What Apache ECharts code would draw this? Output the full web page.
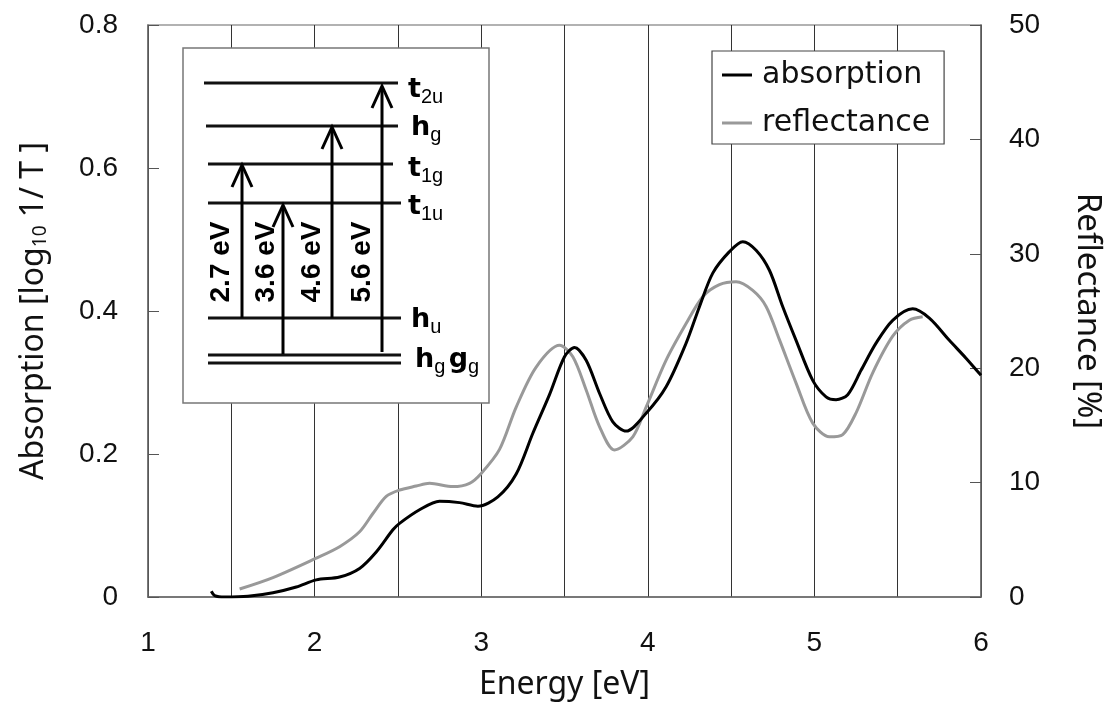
<!DOCTYPE html>
<html>
<head>
<meta charset="utf-8">
<script src="https://cdn.jsdelivr.net/npm/echarts@6/dist/echarts.min.js"></script>
<style>
  html, body { margin: 0; padding: 0; background: #fff; }
  #chart { width: 1112px; height: 710px; }
</style>
</head>
<body>
<div id="chart"></div>
<script>
// absorption spectrum (left axis)
var absEnergy = [1.38, 1.40, 1.46, 1.60, 1.75, 1.89, 2.01, 2.15, 2.27, 2.37, 2.47, 2.51, 2.63, 2.75, 2.87, 2.98, 3.10, 3.21, 3.31, 3.41,
  3.50, 3.56, 3.63, 3.71, 3.79, 3.87, 3.99, 4.11, 4.23, 4.31, 4.39, 4.49, 4.57, 4.65, 4.73, 4.81, 4.89, 4.99, 5.07, 5.13,
  5.20, 5.28, 5.37, 5.47, 5.59, 5.69, 5.81, 5.91, 6.00];
var absorption = [0.008, 0.002, 0, 0.001, 0.006, 0.014, 0.024, 0.028, 0.040, 0.063, 0.094, 0.103, 0.122, 0.134, 0.132, 0.127, 0.140, 0.172, 0.229, 0.283,
  0.336, 0.349, 0.331, 0.285, 0.245, 0.232, 0.257, 0.294, 0.355, 0.406, 0.453, 0.483, 0.497, 0.485, 0.457, 0.406, 0.359, 0.303, 0.280, 0.276,
  0.283, 0.317, 0.355, 0.387, 0.403, 0.390, 0.359, 0.334, 0.310];

// reflectance spectrum (right axis, %)
var reflEnergy = [1.55, 1.75, 2.01, 2.15, 2.27, 2.35, 2.43, 2.51, 2.61, 2.69, 2.83, 2.93, 3.00, 3.11, 3.21, 3.33, 3.47, 3.55, 3.63, 3.71,
  3.80, 3.91, 3.99, 4.11, 4.23, 4.33, 4.43, 4.53, 4.63, 4.71, 4.79, 4.89, 4.99, 5.09, 5.17, 5.25, 5.35, 5.47, 5.57, 5.65];
var reflectance = [0.7, 1.7, 3.4, 4.4, 5.7, 7.3, 8.8, 9.35, 9.7, 9.94, 9.65, 9.94, 10.8, 12.9, 16.6, 20.1, 22.0, 21.0, 18.1, 14.9,
  12.85, 14.0, 16.6, 20.7, 23.9, 26.25, 27.3, 27.55, 26.8, 25.4, 22.5, 18.7, 15.2, 14.0, 14.2, 16.1, 19.6, 22.8, 24.2, 24.5];

var seriesNames = ['absorption', 'reflectance'];
var transitions = ['2.7 eV', '3.6 eV', '4.6 eV', '5.6 eV'];

function pairs(xs, ys) {
  return xs.map(function (x, i) { return [x, ys[i]]; });
}

var FONT = '"Liberation Sans", Arial, sans-serif';
var NAME_FONT = '"Noto Sans", "DejaVu Sans", sans-serif';
var LEGEND_FONT = '"DejaVu Sans", sans-serif';

// ---- inset energy level diagram (pixel layout) ----
var levelLines = [
  { x1: 204, x2: 398, y: 83 },
  { x1: 206, x2: 398, y: 126 },
  { x1: 208, x2: 393, y: 164 },
  { x1: 208, x2: 401, y: 203 },
  { x1: 208, x2: 401, y: 318 },
  { x1: 208, x2: 401, y: 355 },
  { x1: 208, x2: 401, y: 363 }
];
var levelLabels = [
  { text: '{b|t}{s|2u}', x: 408, y: 90 },
  { text: '{b|h}{s|g}', x: 411, y: 128 },
  { text: '{b|t}{s|1g}', x: 408, y: 169 },
  { text: '{b|t}{s|1u}', x: 408, y: 207 },
  { text: '{b|h}{s|u}', x: 411, y: 320 },
  { text: '{b|h}{s|g} {b|g}{s|g}', x: 415, y: 360 }
];
var arrows = [
  { x: 242, y0: 318, y1: 165 },
  { x: 283, y0: 354, y1: 205 },
  { x: 332, y0: 318, y1: 127 },
  { x: 382, y0: 352, y1: 86 }
];
var arrowLabelX = [221, 266, 312, 362];

var graphics = [];
graphics.push({
  type: 'rect', z: 5,
  shape: { x: 183, y: 48, width: 306, height: 355 },
  style: { fill: '#fff', stroke: '#777', lineWidth: 1.5 }
});
levelLines.forEach(function (l) {
  graphics.push({
    type: 'line', z: 6,
    shape: { x1: l.x1, y1: l.y, x2: l.x2, y2: l.y },
    style: { stroke: '#111', lineWidth: 3 }
  });
});
levelLabels.forEach(function (l) {
  graphics.push({
    type: 'text', z: 6, x: l.x, y: l.y,
    style: {
      text: l.text, textVerticalAlign: 'middle', fill: '#000',
      rich: {
        b: { fontFamily: '"DejaVu Sans", sans-serif', fontWeight: 'bold', fontSize: 27, lineHeight: 32 },
        s: { fontFamily: FONT, fontSize: 20, lineHeight: 32, padding: [14, 0, 0, 0] }
      }
    }
  });
});
arrows.forEach(function (a) {
  graphics.push({
    type: 'line', z: 6,
    shape: { x1: a.x, y1: a.y0, x2: a.x, y2: a.y1 + 2 },
    style: { stroke: '#000', lineWidth: 3 }
  });
  graphics.push({
    type: 'polyline', z: 6,
    shape: { points: [[a.x - 10, a.y1 + 22], [a.x, a.y1], [a.x + 10, a.y1 + 22]] },
    style: { stroke: '#000', lineWidth: 3, fill: null }
  });
});
transitions.forEach(function (t, i) {
  graphics.push({
    type: 'text', z: 6, x: arrowLabelX[i], y: 262, rotation: Math.PI / 2,
    style: {
      text: t, fill: '#000', textAlign: 'center', textVerticalAlign: 'middle',
      fontFamily: FONT, fontWeight: 'bold', fontSize: 28
    }
  });
});

var chart = echarts.init(document.getElementById('chart'), null, { renderer: 'canvas' });

var option = {
  backgroundColor: '#fff',
  animation: false,
  grid: {
    left: 148, right: 130, top: 25, bottom: 113,
    show: true, borderColor: '#999', borderWidth: 1.5, backgroundColor: 'transparent'
  },
  legend: {
    data: seriesNames,
    orient: 'vertical',
    left: 712, top: 51,
    padding: [7, 14, 4, 10],
    itemGap: 14,
    itemWidth: 30, itemHeight: 3,
    icon: 'rect',
    backgroundColor: '#fff',
    borderColor: '#444', borderWidth: 1.2,
    z: 10,
    textStyle: { fontFamily: LEGEND_FONT, fontSize: 30, color: '#111', lineHeight: 34, padding: [0, 0, 0, 5] }
  },
  xAxis: {
    type: 'value', min: 1, max: 6, interval: 0.5,
    name: 'Energy [eV]', nameLocation: 'middle', nameGap: 72,
    nameTextStyle: { fontFamily: NAME_FONT, fontSize: 32, color: '#111' },
    axisLine: { lineStyle: { color: '#666', width: 1.5 } },
    axisTick: { show: false },
    axisLabel: {
      margin: 32, fontFamily: FONT, fontSize: 28, color: '#111',
      formatter: function (v) { return Number.isInteger(v) ? String(v) : ''; }
    },
    splitLine: { show: true, lineStyle: { color: '#333', width: 1 } }
  },
  yAxis: [
    {
      type: 'value', min: 0, max: 0.8, interval: 0.2,
      name: 'Absorption [log{sub|10} 1/ T ]', nameLocation: 'middle', nameGap: 98,
      nameTextStyle: {
        fontFamily: NAME_FONT, fontSize: 32, color: '#111',
        rich: { sub: { fontFamily: NAME_FONT, fontSize: 19, color: '#111', padding: [14, 0, 0, 0] } }
      },
      axisLine: { show: true, lineStyle: { color: '#666', width: 1.5 } },
      axisTick: { show: true, inside: true, length: 11, lineStyle: { color: '#555' } },
      axisLabel: { margin: 30, fontFamily: FONT, fontSize: 28, color: '#111' },
      splitLine: { show: false }
    },
    {
      type: 'value', min: 0, max: 50, interval: 10, position: 'right',
      name: 'Reflectance [%]', nameLocation: 'middle', nameGap: 90, nameRotate: -90,
      nameTextStyle: { fontFamily: NAME_FONT, fontSize: 33, color: '#111' },
      axisLine: { show: true, lineStyle: { color: '#666', width: 1.5 } },
      axisTick: { show: true, inside: true, length: 11, lineStyle: { color: '#555' } },
      axisLabel: { margin: 28, fontFamily: FONT, fontSize: 28, color: '#111' },
      splitLine: { show: false }
    }
  ],
  series: [
    {
      name: seriesNames[0], type: 'line', yAxisIndex: 0,
      data: pairs(absEnergy, absorption),
      smooth: 0.3, showSymbol: false, z: 3,
      lineStyle: { color: '#000', width: 3 }, itemStyle: { color: '#000' }
    },
    {
      name: seriesNames[1], type: 'line', yAxisIndex: 1,
      data: pairs(reflEnergy, reflectance),
      smooth: 0.3, showSymbol: false, z: 2,
      lineStyle: { color: '#999', width: 3 }, itemStyle: { color: '#999' }
    }
  ],
  graphic: graphics
};

chart.setOption(option);
</script>
</body>
</html>
